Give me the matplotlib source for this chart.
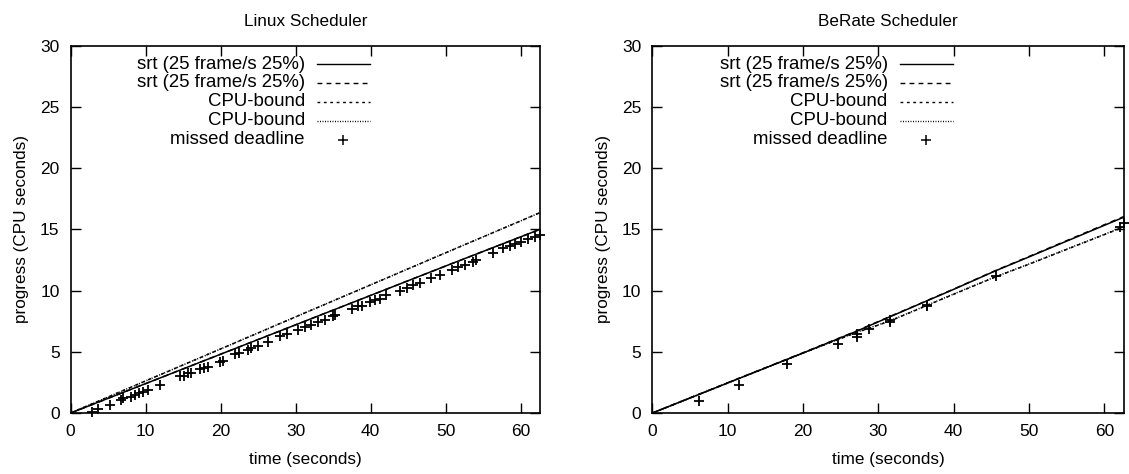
import numpy as np
import matplotlib.pyplot as plt

plt.rcParams['font.family'] = ['Liberation Sans', 'DejaVu Sans']
plt.rcParams['font.size'] = 12.5

# progress curves (time in seconds, progress in CPU seconds)
linux_t = [0, 10, 20, 30, 40, 50, 62.6]
linux_srt1 = [0, 2.4, 4.8, 7.2, 9.6, 12.0, 15.0]
linux_srt2 = [0, 2.4, 4.8, 7.2, 9.6, 12.0, 15.0]
linux_cpu1 = [0, 2.62, 5.23, 7.85, 10.46, 13.08, 16.36]
linux_cpu2 = [0, 2.62, 5.23, 7.85, 10.46, 13.08, 16.36]

linux_miss_t = [2.8, 3.7, 5.3, 6.7, 7.0, 8.0, 8.6, 9.1, 9.7, 10.3, 11.9,
                14.6, 15.1, 15.7, 16.1, 17.2, 17.8, 18.3, 19.9, 20.3, 21.9,
                22.4, 23.7, 24.1, 25.0, 26.3, 27.9, 28.8, 30.3, 31.2, 32.1,
                33.0, 33.9, 35.0, 35.2, 37.5, 38.3, 38.8, 39.9, 40.6, 41.2,
                42.1, 43.9, 44.8, 45.7, 46.6, 48.1, 49.2, 50.8, 51.7, 52.6,
                53.7, 54.1, 56.3, 57.7, 58.6, 59.2, 60.1, 61.0, 61.9, 62.6]
linux_miss_p = [0.1, 0.3, 0.65, 1.05, 1.2, 1.3, 1.45, 1.6, 1.75, 1.9, 2.3,
                3.0, 3.05, 3.25, 3.3, 3.6, 3.7, 3.75, 4.2, 4.27, 4.8,
                4.9, 5.15, 5.3, 5.5, 5.8, 6.3, 6.45, 6.8, 7.0, 7.2,
                7.4, 7.6, 7.9, 8.0, 8.5, 8.7, 8.75, 9.1, 9.25, 9.35,
                9.6, 10.0, 10.2, 10.45, 10.6, 11.0, 11.27, 11.68, 11.95, 12.1,
                12.36, 12.5, 13.05, 13.45, 13.65, 13.8, 14.0, 14.2, 14.35, 14.5]

berate_t = [0, 10, 20, 27, 31.5, 40, 45.5, 50, 62.6]
berate_srt1 = [0, 2.45, 4.9, 6.65, 7.85, 10.1, 11.6, 12.75, 16.0]
berate_srt2 = [0, 2.47, 4.92, 6.67, 7.87, 10.12, 11.62, 12.78, 16.05]
berate_cpu1 = [0, 2.45, 4.9, 6.55, 7.5, 9.7, 11.1, 12.15, 15.2]
berate_cpu2 = [0, 2.45, 4.9, 6.57, 7.52, 9.72, 11.12, 12.17, 15.22]

berate_miss_t = [6.2, 11.5, 17.9, 24.6, 27.1, 27.1, 28.8, 31.5, 31.5,
                 36.4, 36.5, 45.6, 62.0, 62.6]
berate_miss_p = [0.98, 2.29, 3.97, 5.64, 6.43, 6.24, 6.86, 7.6, 7.4,
                 8.8, 8.7, 11.19, 15.2, 15.5]

labels = ['srt (25 frame/s 25%)', 'srt (25 frame/s 25%)',
          'CPU-bound', 'CPU-bound', 'missed deadline']

styles = [dict(ls='-'),
          dict(ls=(0, (3.5, 3))),
          dict(ls=(0, (2, 2.6))),
          dict(ls=(0, (0.7, 1.1)))]


def draw(ax, t, series, miss_t, miss_p, title):
    for s, st in zip(series, styles):
        ax.plot(t, s, color='black', lw=1.1, **st)
    ax.plot(miss_t, miss_p, ls='none', marker='+', color='black',
            ms=7.5, mew=1.3, clip_on=False)
    # key, gnuplot style: text right-aligned, sample on the right
    rows = [0.950, 0.899, 0.847, 0.795, 0.744]
    for i, (lab, y) in enumerate(zip(labels, rows)):
        ax.text(0.499, y, lab, transform=ax.transAxes, ha='right',
                va='center', fontsize=13.4)
        if i < 4:
            ax.plot([0.524, 0.638], [y, y], transform=ax.transAxes,
                    color='black', lw=1.0, **styles[i])
        else:
            ax.plot([0.581], [y], transform=ax.transAxes, ls='none',
                    marker='+', color='black', ms=7.5, mew=1.1)
    ax.set_xlim(0, 62.6)
    ax.set_ylim(0, 30)
    ax.set_xticks([0, 10, 20, 30, 40, 50, 60])
    ax.set_yticks([0, 5, 10, 15, 20, 25, 30])
    ax.tick_params(direction='in', length=7, width=1.0, top=True,
                   right=True, pad=8)
    for sp in ax.spines.values():
        sp.set_linewidth(1.2)
    ax.set_title(title, pad=14, fontsize=12.3)
    ax.set_xlabel('time (seconds)', labelpad=9, fontsize=12.3)
    ax.set_ylabel('progress (CPU seconds)', labelpad=8, fontsize=12.3)


fig = plt.figure(figsize=(11.29, 4.74), dpi=100)
ax1 = fig.add_axes([0.0626, 0.1287, 0.4157, 0.775])
ax2 = fig.add_axes([0.5778, 0.1287, 0.4178, 0.775])

draw(ax1, linux_t, [linux_srt1, linux_srt2, linux_cpu1, linux_cpu2],
     linux_miss_t, linux_miss_p, 'Linux Scheduler')
draw(ax2, berate_t, [berate_srt1, berate_srt2, berate_cpu1, berate_cpu2],
     berate_miss_t, berate_miss_p, 'BeRate Scheduler')

fig.savefig('out.png', dpi=100)
